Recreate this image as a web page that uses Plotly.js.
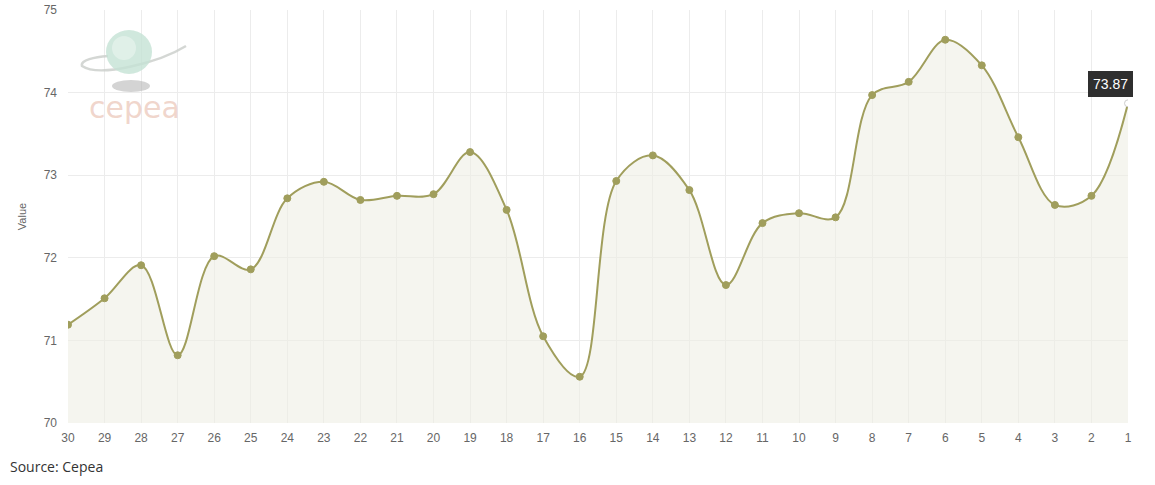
<!DOCTYPE html>
<html>
<head>
<meta charset="utf-8">
<script src="https://cdn.plot.ly/plotly-3.0.1.min.js"></script>
<style>
html,body{margin:0;padding:0;background:#fff;}
#chart{width:1155px;height:485px;}
</style>
</head>
<body>
<div id="chart"></div>
<script>
const days = ["30","29","28","27","26","25","24","23","22","21","20","19","18","17","16","15","14","13","12","11","10","9","8","7","6","5","4","3","2","1"];
const values = [71.19,71.51,71.91,70.82,72.02,71.86,72.72,72.92,72.70,72.75,72.77,73.28,72.58,71.05,70.56,72.93,73.24,72.82,71.67,72.42,72.54,72.49,73.97,74.13,74.64,74.33,73.46,72.64,72.75,73.87];
const yTicks = [70,71,72,73,74,75];
const sourceText = "Source: Cepea";
const yTitle = "Value";
const logoText = "cepea";

const olive = "rgb(160,158,92)";
const n = values.length;
const markerColors = values.map((v,i)=> i===n-1 ? "#ffffff" : olive);
const markerLines = values.map((v,i)=> i===n-1 ? "rgba(200,200,200,0.9)" : olive);

const trace = {
  x: days, y: values, type: "scatter", mode: "lines+markers",
  line: {shape: "spline", smoothing: 1, color: olive, width: 2},
  marker: {size: 7, color: markerColors, line: {width: 1, color: markerLines}},
  fill: "tozeroy", fillcolor: "rgba(238,238,228,0.6)",
  hoverinfo: "none"
};

// helpers: pixel -> paper (plot area: x 68..1128, y 10..423)
const px = v => (v - 68) / 1060;
const py = v => (423 - v) / 413;
const orbit = "M " + px(186) + "," + py(46) +
  " C " + px(160) + "," + py(62) + " " + px(100) + "," + py(78) + " " + px(82) + "," + py(66) +
  " C " + px(80) + "," + py(60) + " " + px(95) + "," + py(57) + " " + px(108) + "," + py(56);

const layout = {
  width: 1155, height: 485,
  margin: {l: 68, r: 27, t: 10, b: 62},
  paper_bgcolor: "#fff", plot_bgcolor: "#fff",
  showlegend: false,
  font: {family: "Liberation Sans, Arial, sans-serif", size: 12, color: "#666"},
  xaxis: {
    type: "category", range: [0, n-1], showgrid: true, gridcolor: "#ececec",
    zeroline: false, showline: false, ticks: "", tickfont: {size: 12, color: "#666"},
    ticklabelstandoff: 6, fixedrange: true
  },
  yaxis: {
    range: [70, 75], tickvals: yTicks, showgrid: true, gridcolor: "#ececec",
    zeroline: false, showline: false, ticks: "", tickfont: {size: 12, color: "#666"},
    ticklabelstandoff: 10,
    title: {text: yTitle, font: {size: 11, color: "#666"}, standoff: 14}
  },
  shapes: [
    {type:"path", xref:"paper", yref:"paper", path: orbit,
     line:{color:"rgba(205,208,205,0.85)", width:2.5}},
    {type:"circle", xref:"paper", yref:"paper", x0:px(106), x1:px(152), y0:py(74), y1:py(30),
     fillcolor:"rgba(196,226,213,0.8)", line:{width:0}},
    {type:"circle", xref:"paper", yref:"paper", x0:px(112), x1:px(136), y0:py(60), y1:py(36),
     fillcolor:"rgba(235,245,240,0.6)", line:{width:0}},
    {type:"circle", xref:"paper", yref:"paper", x0:px(112), x1:px(150), y0:py(92), y1:py(80),
     fillcolor:"rgba(170,170,170,0.5)", line:{width:0}}
  ],
  annotations: [
    {xref:"paper", yref:"paper", x:px(134), y:py(107), text:logoText, showarrow:false,
     xanchor:"center", yanchor:"middle",
     font:{family:"DejaVu Sans, sans-serif", size:30, color:"rgba(228,178,160,0.55)"}},
    {xref:"paper", yref:"paper", x:px(8), y:py(466), xanchor:"left", yanchor:"middle",
     text:sourceText, showarrow:false,
     font:{family:"Open Sans, sans-serif", size:14, color:"#333"}},
    {x: n-1, y: values[n-1], text: values[n-1].toFixed(2), showarrow:false,
     xanchor:"center", yanchor:"bottom", xshift:-18, yshift:6,
     bgcolor:"#2f2f2f", bordercolor:"#2f2f2f", borderpad:4,
     font:{family:"Liberation Sans, Arial, sans-serif", size:14, color:"#fff"}}
  ]
};

Plotly.newPlot("chart", [trace], layout, {displayModeBar:false, staticPlot:true});
</script>
</body>
</html>
